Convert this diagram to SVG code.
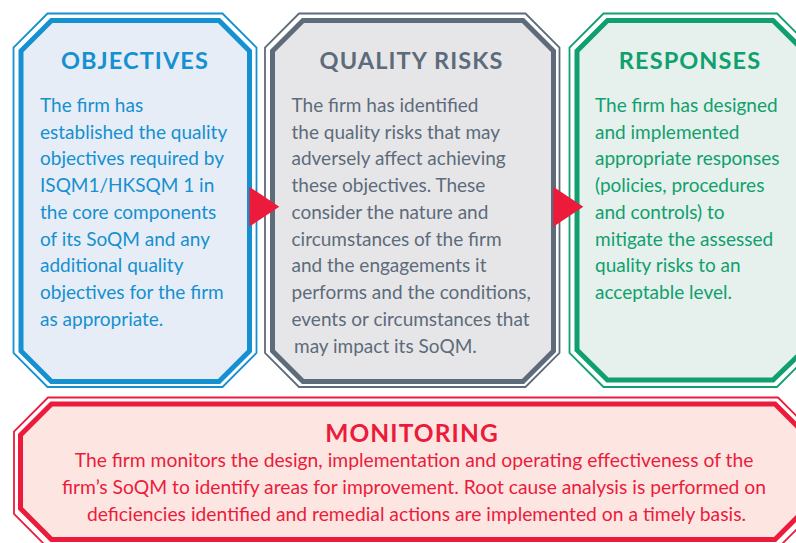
<svg xmlns="http://www.w3.org/2000/svg" width="796" height="543" viewBox="0 0 796 543">
<style>
.thin{fill:#ffffff;stroke-width:1.8}
.thick{stroke-width:5}
.title{font-family:Lato,"Open Sans","Noto Sans",sans-serif;font-weight:700;font-size:23.5px;text-anchor:middle;letter-spacing:1.1px}
.body{font-family:Lato,"Open Sans","Noto Sans",sans-serif;font-size:19px}
.blue .thin,.blue .thick{stroke:#1590d0}
.blue .thick{fill:#e6edf7}
.blue text{fill:#1590d0}
.gray .thin,.gray .thick{stroke:#5d6b7a}
.gray .thick{fill:#e6e6e9}
.gray text{fill:#5d6b7a}
.green .thin,.green .thick{stroke:#10a06e}
.green .thick{fill:#e6f0ec}
.green text{fill:#10a06e}
.red .thin,.red .thick{stroke:#ec1b3c}
.red .thick{fill:#fde6e2}
.red text{fill:#ec1b3c}
.arrow{fill:#ec1b3c}
</style>
<rect width="796" height="543" fill="#ffffff"/>
<g id="objectives" class="blue">
<path class="thin" d="M47.5,13.5 H222.5 L256.5,47.5 V353 L222.5,387 H47.5 L13.5,353 V47.5 Z"/>
<path class="thick" d="M51.5,20.5 H219 L249.5,51 V351 L219,381.5 H51.5 L21,351 V51 Z"/>
<text class="title" x="135" y="68.5">OBJECTIVES</text>
<text class="body" x="40">
<tspan x="40" y="111.7">The firm has</tspan>
<tspan x="40" y="138.5">established the quality</tspan>
<tspan x="40" y="165.3">objectives required by</tspan>
<tspan x="40" y="192">ISQM1/HKSQM 1 in</tspan>
<tspan x="40" y="218.8">the core components</tspan>
<tspan x="40" y="245.6">of its SoQM and any</tspan>
<tspan x="40" y="272.4">additional quality</tspan>
<tspan x="40" y="299.2">objectives for the firm</tspan>
<tspan x="40" y="326">as appropriate.</tspan>
</text>
</g>
<g id="quality-risks" class="gray">
<path class="thin" d="M299,13.5 H525.5 L559.5,47.5 V353 L525.5,387 H299 L265,353 V47.5 Z"/>
<path class="thick" d="M303,20.5 H523 L553.5,51 V351 L523,381.5 H303 L272.5,351 V51 Z"/>
<text class="title" x="411.5" y="68.5">QUALITY RISKS</text>
<text class="body" x="291.5">
<tspan x="291.5" y="111.7">The firm has identified</tspan>
<tspan x="291.5" y="138.5">the quality risks that may</tspan>
<tspan x="291.5" y="165.3">adversely affect achieving</tspan>
<tspan x="291.5" y="192">these objectives. These</tspan>
<tspan x="291.5" y="218.8">consider the nature and</tspan>
<tspan x="291.5" y="245.6">circumstances of the firm</tspan>
<tspan x="291.5" y="272.4">and the engagements it</tspan>
<tspan x="291.5" y="299.2">performs and the conditions,</tspan>
<tspan x="291.5" y="326">events or circumstances that</tspan>
<tspan x="294" y="352.5">may impact its SoQM.</tspan>
</text>
</g>
<g id="responses" class="green">
<path class="thin" d="M603.5,13.5 H777 L811,47.5 V353 L777,387 H603.5 L569.5,353 V47.5 Z"/>
<path class="thick" d="M607.5,20.5 H773 L804,51 V350 L773,380 H607.5 L577,350 V51 Z"/>
<text class="title" x="690" y="68.5">RESPONSES</text>
<text class="body" x="595">
<tspan x="595" y="111.7">The firm has designed</tspan>
<tspan x="595" y="138.5">and implemented</tspan>
<tspan x="595" y="165.3">appropriate responses</tspan>
<tspan x="595" y="192">(policies, procedures</tspan>
<tspan x="595" y="218.8">and controls) to</tspan>
<tspan x="595" y="245.6">mitigate the assessed</tspan>
<tspan x="595" y="272.4">quality risks to an</tspan>
<tspan x="595" y="299.2">acceptable level.</tspan>
</text>
</g>
<g id="monitoring" class="red">
<path class="thin" d="M48,397.5 H778 L812,431.5 V514 L778,548 H48 L14,514 V431.5 Z"/>
<path class="thick" d="M51.5,404 H775 L806,435 V508.5 L775,539.5 H51.5 L20.5,508.5 V435 Z"/>
<text class="title" x="412" y="441.7" style="font-size:24.5px">MONITORING</text>
<text class="body" style="text-anchor:middle;font-size:19.3px">
<tspan x="416.5" y="466.7">The firm monitors the design, implementation and operating effectiveness of the</tspan>
<tspan x="416.5" y="494">firm’s SoQM to identify areas for improvement. Root cause analysis is performed on</tspan>
<tspan x="416.5" y="520.7">deficiencies identified and remedial actions are implemented on a timely basis.</tspan>
</text>
</g>
<g id="connectors">
<polygon class="arrow" points="249.3,186.7 279.3,206.7 249.3,226.7"/>
<polygon class="arrow" points="553.3,186.7 583.3,206.7 553.3,226.7"/>
</g>
</svg>
